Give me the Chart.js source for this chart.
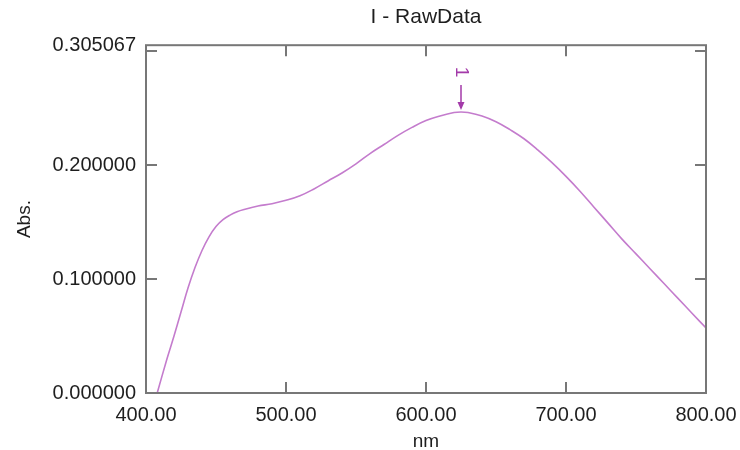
<!DOCTYPE html>
<html>
<head>
<meta charset="utf-8">
<script src="https://cdn.jsdelivr.net/npm/chart.js@4.4.1/dist/chart.umd.min.js"></script>
<style>
  html, body { margin: 0; padding: 0; background: #fff; }
  #wrap { width: 740px; height: 450px; }
</style>
</head>
<body>
<div id="wrap"><canvas id="chart"></canvas></div>
<script>
const FONT = "'Liberation Sans', Arial, sans-serif";
const TEXT = '#1e1e1e';
const FRAME = '#777777';
const CURVE = '#c47ccd';
const PEAK = '#a33aa9';

// spectrum
const wavelengths = [408, 415, 420, 425, 430, 435, 440, 445, 450, 455, 460, 465, 470, 480, 490, 500,
  510, 520, 530, 540, 550, 560, 570, 580, 590, 600, 610, 620, 625, 630, 640, 650, 660, 670, 680, 690,
  700, 710, 720, 730, 740, 750, 760, 770, 780, 790, 800];
const absorbance = [0.000, 0.030, 0.050, 0.071, 0.092, 0.110, 0.125, 0.137, 0.146, 0.152, 0.156, 0.159, 0.161, 0.164, 0.166, 0.169,
  0.173, 0.179, 0.186, 0.193, 0.201, 0.210, 0.218, 0.226, 0.233, 0.239, 0.243, 0.246, 0.2465, 0.246, 0.243, 0.238, 0.231, 0.223, 0.213, 0.202,
  0.190, 0.177, 0.163, 0.149, 0.135, 0.122, 0.109, 0.096, 0.083, 0.070, 0.057];

const yTickLabels = [0, 0.1, 0.2, 0.305067];
const yMarks = [0.1, 0.2, 0.3];
const xMarks = [500, 600, 700];
const peakLabels = ['1'];
const peakNm = [625];
const peakAbs = [0.2465];

const frameAndMarks = {
  id: 'frameAndMarks',
  afterDatasetsDraw(chart) {
    const { ctx, chartArea: a, scales: { x, y } } = chart;
    ctx.save();
    ctx.strokeStyle = FRAME;
    ctx.lineWidth = 2;
    ctx.strokeRect(a.left, a.top, a.right - a.left, a.bottom - a.top);
    ctx.beginPath();
    xMarks.forEach(v => {
      const px = x.getPixelForValue(v);
      ctx.moveTo(px, a.bottom); ctx.lineTo(px, a.bottom - 11);
      ctx.moveTo(px, a.top); ctx.lineTo(px, a.top + 11);
    });
    yMarks.forEach(v => {
      const py = y.getPixelForValue(v);
      ctx.moveTo(a.left, py); ctx.lineTo(a.left + 11, py);
      ctx.moveTo(a.right, py); ctx.lineTo(a.right - 11, py);
    });
    ctx.stroke();

    // peak pick marker
    ctx.strokeStyle = PEAK;
    ctx.fillStyle = PEAK;
    ctx.lineWidth = 1.5;
    peakNm.forEach((nm, i) => {
      const px = x.getPixelForValue(nm);
      const py = y.getPixelForValue(peakAbs[i]);
      ctx.beginPath();
      ctx.moveTo(px, py - 27); ctx.lineTo(px, py - 4);
      ctx.stroke();
      ctx.beginPath();
      ctx.moveTo(px - 3.5, py - 10); ctx.lineTo(px + 3.5, py - 10); ctx.lineTo(px, py - 2);
      ctx.closePath();
      ctx.fill();
      ctx.save();
      ctx.translate(px, py - 40);
      ctx.rotate(Math.PI / 2);
      ctx.font = `19px ${FONT}`;
      ctx.textAlign = 'center';
      ctx.textBaseline = 'middle';
      ctx.fillText(peakLabels[i], 0, 0);
      ctx.restore();
    });
    ctx.restore();
  }
};

new Chart(document.getElementById('chart'), {
  type: 'line',
  data: {
    datasets: [{
      data: wavelengths.map((w, i) => ({ x: w, y: absorbance[i] })),
      borderColor: CURVE,
      borderWidth: 1.6,
      pointRadius: 0,
      tension: 0.4,
      fill: false,
    }],
  },
  options: {
    responsive: true,
    maintainAspectRatio: false,
    animation: false,
    layout: { padding: { left: 0, right: 34, top: 0, bottom: 0 } },
    plugins: {
      legend: { display: false },
      tooltip: { enabled: false },
      title: {
        display: true,
        text: 'I - RawData',
        fullSize: false,
        color: TEXT,
        font: { family: FONT, size: 21, weight: 'normal' },
        padding: { top: 5, bottom: 15 },
      },
    },
    scales: {
      x: {
        type: 'linear',
        min: 400, max: 800,
        grid: { display: false },
        border: { display: false },
        ticks: {
          stepSize: 100,
          padding: 2,
          color: TEXT,
          font: { family: FONT, size: 20 },
          maxRotation: 0,
          callback: v => Number(v).toFixed(2),
        },
        title: { display: true, text: 'nm', color: TEXT, font: { family: FONT, size: 19 }, padding: { top: 0, bottom: -3 } },
        afterFit: s => { s.height = 57; s.paddingLeft = 0; s.paddingRight = 0; },
      },
      y: {
        min: 0, max: 0.305067,
        grid: { display: false },
        border: { display: false },
        afterBuildTicks: s => { s.ticks = yTickLabels.map(v => ({ value: v })); },
        ticks: {
          padding: 2,
          color: TEXT,
          font: { family: FONT, size: 20 },
          callback: v => Number(v).toFixed(6),
        },
        title: { display: true, text: 'Abs.', color: TEXT, font: { family: FONT, size: 19 }, padding: { top: 13, bottom: 0 } },
        afterFit: s => { s.width = 146; s.paddingTop = 0; s.paddingBottom = 0; },
      },
    },
  },
  plugins: [frameAndMarks],
});
</script>
</body>
</html>
